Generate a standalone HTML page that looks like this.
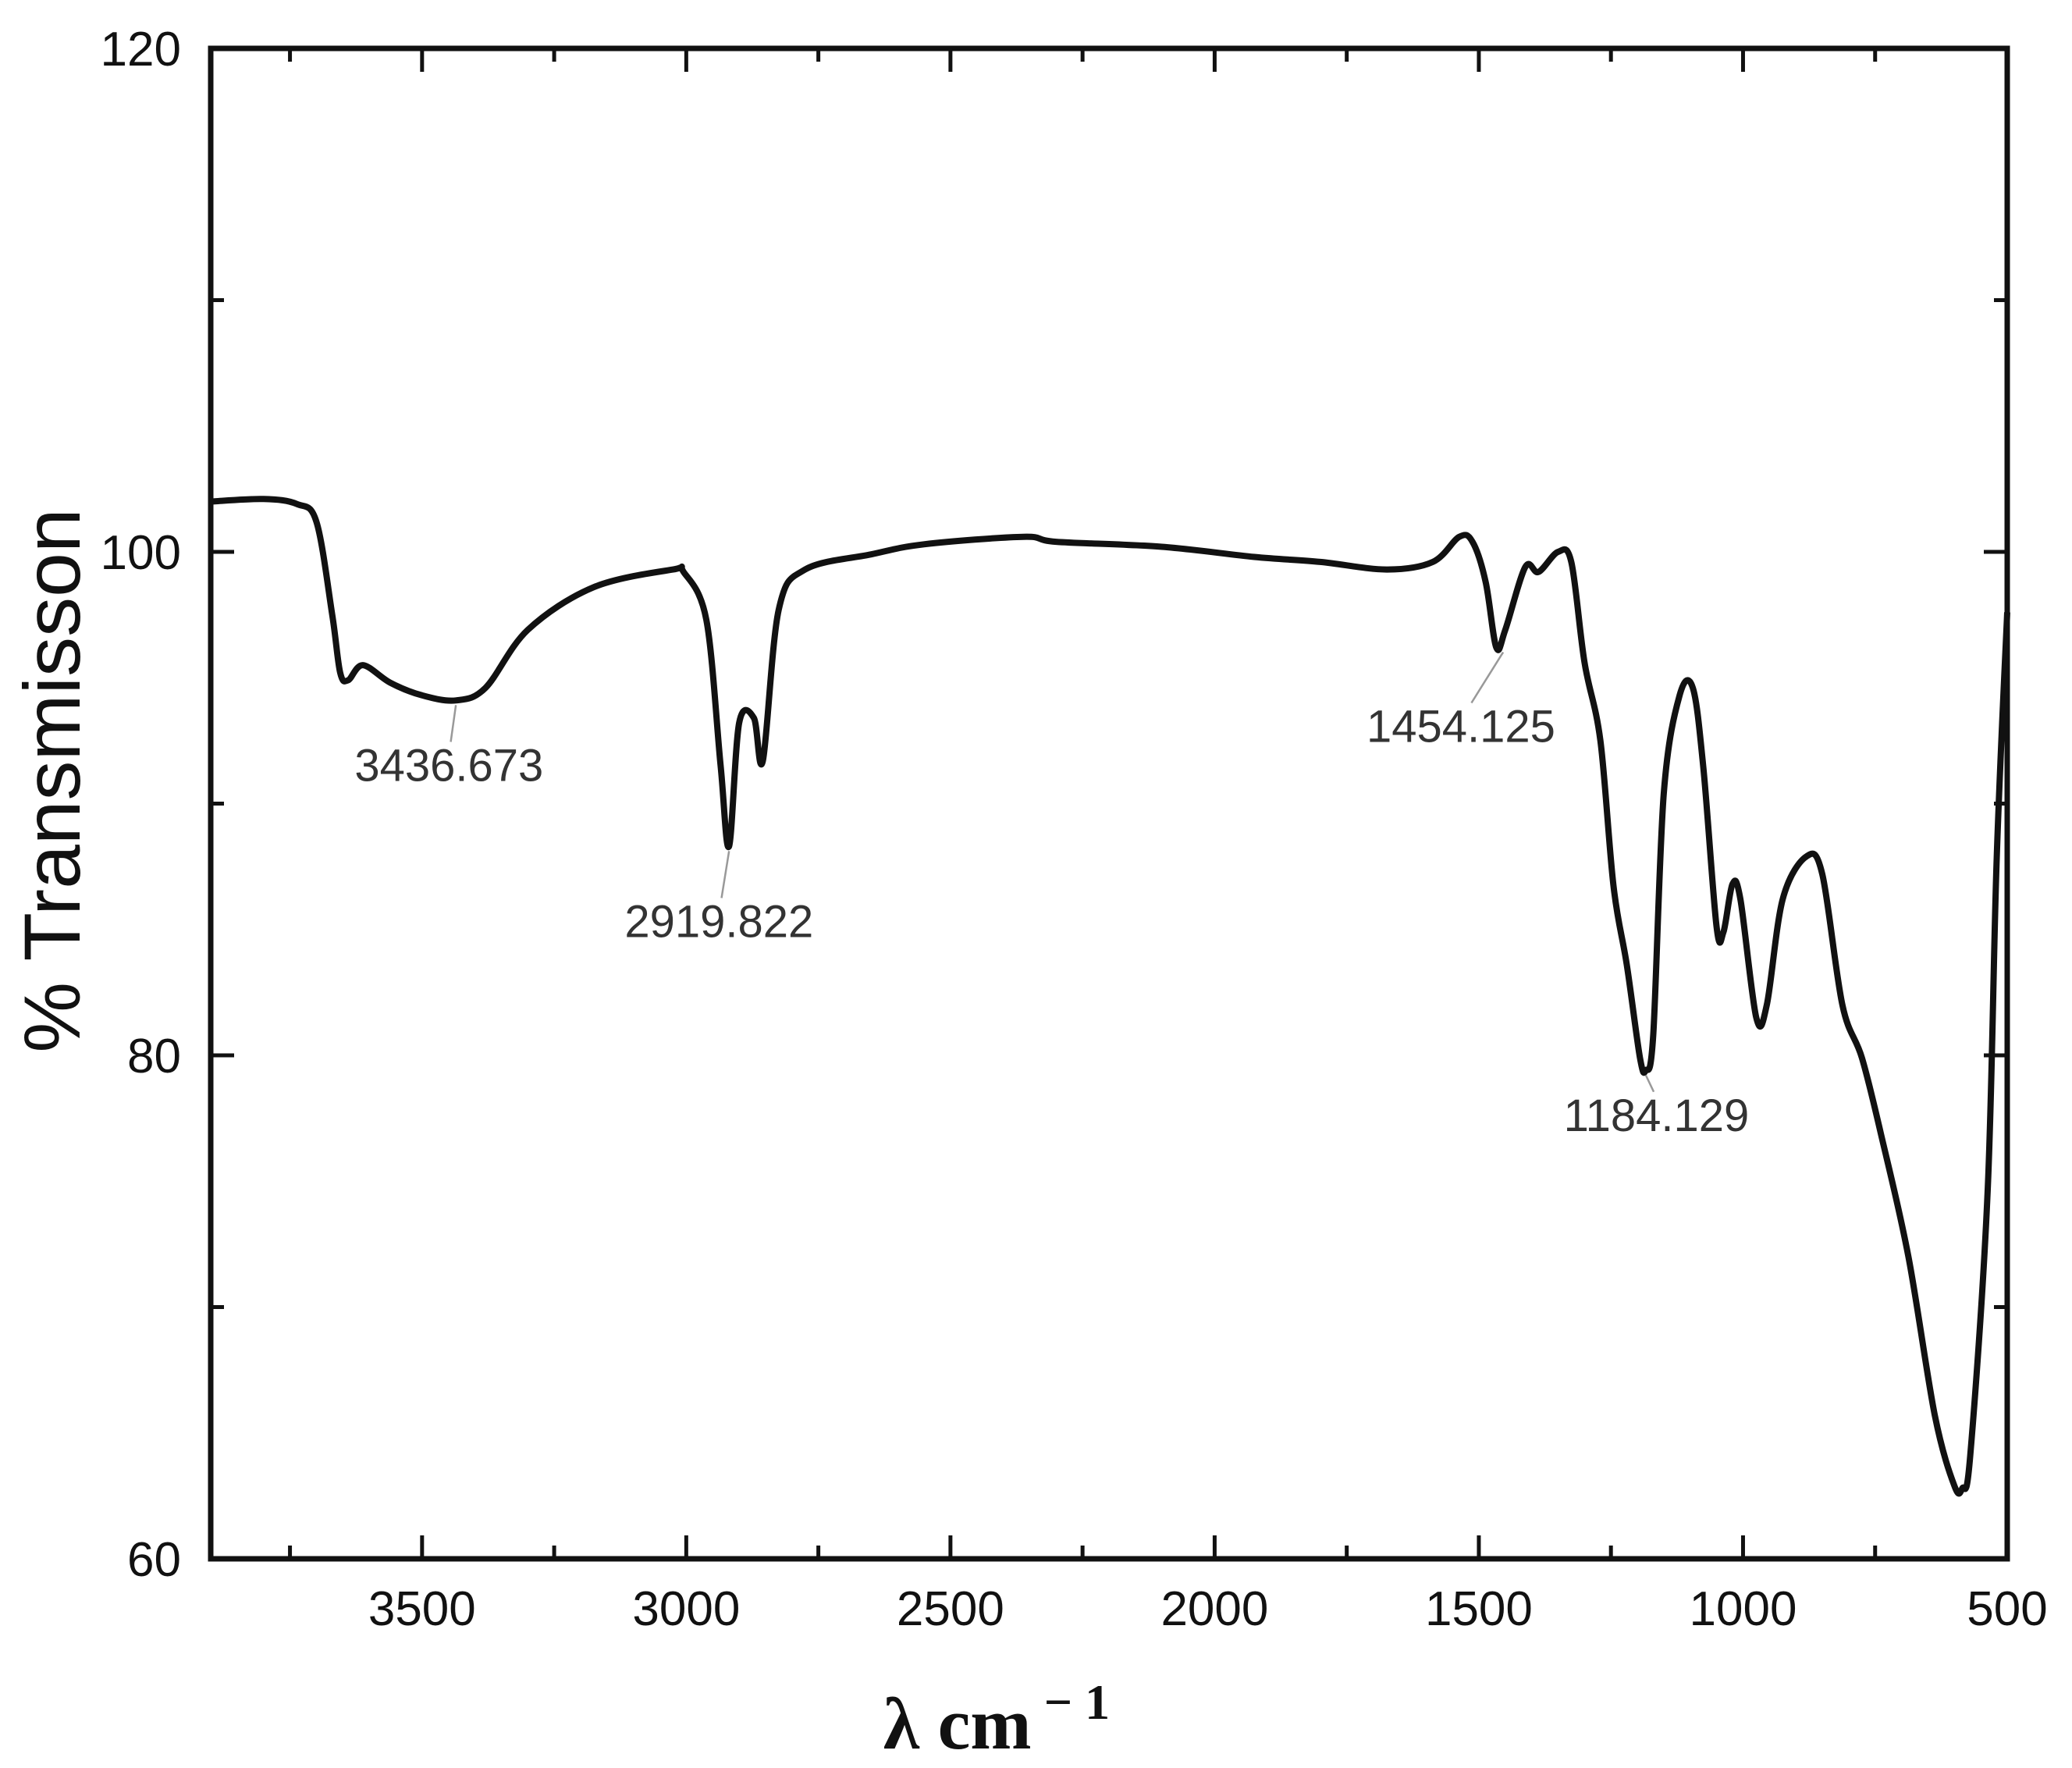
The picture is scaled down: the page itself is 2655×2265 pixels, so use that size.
<!DOCTYPE html>
<html><head><meta charset="utf-8"><style>
html,body{margin:0;padding:0;background:#fff;}
svg{display:block;}
</style></head><body>
<svg id="chart" width="2655" height="2265" viewBox="0 0 2655 2265" xmlns="http://www.w3.org/2000/svg">
<rect x="0" y="0" width="2655" height="2265" fill="#fff"/>
<g id="plot"></g>
<text transform="translate(102,1000) rotate(-90)" text-anchor="middle" font-family="Liberation Sans, sans-serif" font-size="102" fill="#111">% Transmisson</text>
<text x="1277" y="2240" text-anchor="middle" font-family="Liberation Serif, serif" font-weight="bold" font-size="94" fill="#111">λ cm<tspan dy="-38" font-size="64"> − 1</tspan></text>
</svg>
<script>
const waveNumbers = [3900,3800,3737,3700,3670,3655,3640,3612,3560,3500,3436,3380,3300,3175,3025,3005,2962,2935,2919,2900,2872,2855,2825,2775,2650,2550,2362,2300,2100,1925,1800,1675,1587,1537,1512,1487,1467,1450,1412,1387,1350,1325,1300,1270,1245,1220,1195,1184,1170,1150,1120,1095,1075,1050,1037,1020,1005,975,955,925,880,850,812,775,737,687,637,600,585,570,537,520,500];
const transmission = [102.0,102.1,101.9,101.2,97.5,95.2,94.9,95.5,94.8,94.3,94.1,94.6,96.9,98.6,99.3,99.2,97.3,91.5,88.3,93.2,93.4,91.7,97.7,99.3,99.9,100.3,100.6,100.4,100.2,99.8,99.6,99.3,99.6,100.6,100.4,98.8,96.2,96.9,99.4,99.2,100.0,99.6,95.6,92.5,86.7,83.6,79.9,79.4,80.8,90.4,94.3,94.6,91.4,85.1,84.9,86.8,86.2,81.5,82.0,86.2,87.9,87.2,82.0,79.9,76.7,72.0,65.7,62.9,62.8,64.1,74.6,87.8,97.6];
const xTicksMajor = [3500,3000,2500,2000,1500,1000,500];
const xTicksMinor = [3750,3250,2750,2250,1750,1250,750];
const yTicksMajor = [60,80,100,120];
const yTicksMinor = [70,90,110];
const peakLabels = ["3436.673","2919.822","1454.125","1184.129"];
const peakX = [3436,2919,1454,1184];
const peakY = [94.1,88.3,96.2,79.4];
const labelX = [3449,2938,1534,1164];
const labelY = [90.9,84.7,92.45,77.0];

const L=270,R=2572,T=62,B=1997, XMIN=500,XMAX=3900,YMIN=60,YMAX=120;
function sx(v){return L+(XMAX-v)/(XMAX-XMIN)*(R-L);}
function sy(v){return B-(v-YMIN)/(YMAX-YMIN)*(B-T);}
const NS="http://www.w3.org/2000/svg";
const g=document.getElementById('plot');
function mk(tag,attrs){const e=document.createElementNS(NS,tag);for(const k in attrs)e.setAttribute(k,attrs[k]);g.appendChild(e);return e;}

const pts=waveNumbers.map((w,i)=>[sx(w),sy(transmission[i])]);
let d='M'+pts[0][0]+','+pts[0][1];
for(let i=0;i<pts.length-1;i++){
  const p0=pts[Math.max(0,i-1)],p1=pts[i],p2=pts[i+1],p3=pts[Math.min(pts.length-1,i+2)];
  const c1=[p1[0]+(p2[0]-p0[0])/6,p1[1]+(p2[1]-p0[1])/6];
  const c2=[p2[0]-(p3[0]-p1[0])/6,p2[1]-(p3[1]-p1[1])/6];
  d+=' C'+c1[0].toFixed(1)+','+c1[1].toFixed(1)+' '+c2[0].toFixed(1)+','+c2[1].toFixed(1)+' '+p2[0].toFixed(1)+','+p2[1].toFixed(1);
}
const curve=mk('path',{d:d,fill:'none',stroke:'#111','stroke-width':8,'stroke-linejoin':'round'});



const frame=mk('rect',{x:L,y:T,width:R-L,height:B-T,fill:'none',stroke:'#111','stroke-width':7});



xTicksMajor.forEach(v=>{
  const x=sx(v);
  const t1=mk('line',{x1:x,y1:B,x2:x,y2:B-30,stroke:'#111','stroke-width':5});
  
  
  const t2=mk('line',{x1:x,y1:T,x2:x,y2:T+30,stroke:'#111','stroke-width':5});
  
  
  const tx=mk('text',{x:x,y:2082,'text-anchor':'middle','font-family':'Liberation Sans, sans-serif','font-size':62,fill:'#111'});
  tx.textContent=v;
  
  
});
xTicksMinor.forEach(v=>{
  const x=sx(v);
  const t1=mk('line',{x1:x,y1:B,x2:x,y2:B-17,stroke:'#111','stroke-width':5});
  
  
  const t2=mk('line',{x1:x,y1:T,x2:x,y2:T+17,stroke:'#111','stroke-width':5});
  
  
});
yTicksMajor.forEach(v=>{
  const y=sy(v);
  const t1=mk('line',{x1:L,y1:y,x2:L+30,y2:y,stroke:'#111','stroke-width':5});
  
  
  const t2=mk('line',{x1:R,y1:y,x2:R-30,y2:y,stroke:'#111','stroke-width':5});
  
  
  const tx=mk('text',{x:232,y:y+22,'text-anchor':'end','font-family':'Liberation Sans, sans-serif','font-size':62,fill:'#111'});
  tx.textContent=v;
  
  
});
yTicksMinor.forEach(v=>{
  const y=sy(v);
  const t1=mk('line',{x1:L,y1:y,x2:L+17,y2:y,stroke:'#111','stroke-width':5});
  
  
  const t2=mk('line',{x1:R,y1:y,x2:R-17,y2:y,stroke:'#111','stroke-width':5});
  
  
});
peakLabels.forEach((s,i)=>{
  const px=sx(peakX[i]),py=sy(peakY[i]),lx=sx(labelX[i]),ly=sy(labelY[i]);
  const ln=mk('line',{x1:px,y1:py+6,x2:lx+(px-lx)*0.25,y2:ly-50,stroke:'#999','stroke-width':2.5});
  
  
  const tx=mk('text',{x:lx,y:ly,'text-anchor':'middle','font-family':'Liberation Sans, sans-serif','font-size':58,fill:'#333'});
  tx.textContent=s;
  
  
});
</script>
</body></html>
